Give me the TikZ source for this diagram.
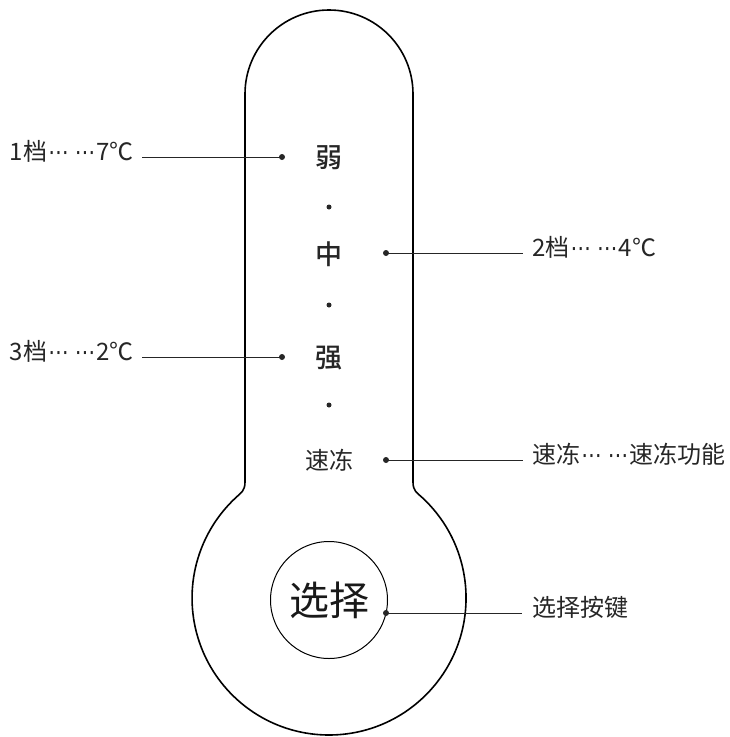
\documentclass[tikz,border=0pt]{standalone}
\usepackage{fontspec}
\setmainfont{Noto Sans CJK SC}[BoldFont={Noto Sans CJK SC Medium}]
\newfontfamily\symfnt{DejaVu Sans}
\newcommand{\degc}{℃}
\newcommand{\dotgrp}{\makebox[0.95em]{\symfnt\scalebox{0.85}[1]{⋯}}}
\newcommand{\dotsx}{\dotgrp\hspace{0.15em}\dotgrp}
\begin{document}
\begin{tikzpicture}[x=1pt,y=-1pt,
  outline/.style={line width=1.6pt,line join=round},
  leader/.style={line width=1pt,draw=black!85},
  dotmark/.style={circle,fill=black!85,inner sep=0pt,minimum size=6pt},
  sidelabel/.style={inner sep=0pt,text height=0.86em,text depth=0.14em,font=\fontsize{24}{28}\selectfont,text=black!85},
  level/.style={inner sep=0pt,font=\fontsize{27}{30}\selectfont\bfseries,text=black!85},
  ]
\useasboundingbox (0,0) rectangle (729,737);
% thermometer outline
\draw[outline] (245,94) arc[start angle=180,end angle=360,radius=84] -- (413,482)
  .. controls (413,491) and (417.2,492.9) .. (421.6,497)
  arc[start angle=-47.5,end angle=227.5,radius=137]
  .. controls (240.8,492.9) and (245,491) .. (245,482) -- cycle;
% select button
\node[circle,draw,line width=1pt,minimum size=117pt,inner sep=0pt] (btn) at (329,600) {};
\node[inner sep=0pt,font=\fontsize{40}{44}\selectfont,text=black!90] (btntext) at (329,600) {选择};
% levels
\node[level] (weak) at (329,158) {弱};
\node[dotmark,minimum size=5pt] (s1) at (329,207) {};
\node[level] (mid) at (329,254) {中};
\node[dotmark,minimum size=5pt] (s2) at (329,305) {};
\node[level] (strong) at (329,358) {强};
\node[dotmark,minimum size=5pt] (s3) at (329,405) {};
\node[inner sep=0pt,font=\fontsize{24}{28}\selectfont,text=black!85] (quick) at (329,460) {速冻};
% dots
\node[dotmark] (d1) at (282,157) {};
\node[dotmark] (d2) at (386,253) {};
\node[dotmark] (d3) at (282,357) {};
\node[dotmark] (d4) at (386,460) {};
\node[dotmark] (d5) at (386,613) {};
% labels
\node[sidelabel,anchor=east] (l1) at (134,157) {1档\dotsx 7\degc};
\node[sidelabel,anchor=west] (l2) at (532,253) {2档\dotsx 4\degc};
\node[sidelabel,anchor=east] (l3) at (134,357) {3档\dotsx 2\degc};
\node[sidelabel,anchor=west] (l4) at (532,460) {速冻\dotsx 速冻功能};
\node[sidelabel,anchor=west] (l5) at (532,613) {选择按键};
% leaders
\draw[leader] ([xshift=8pt]l1.east) -- (d1.center);
\draw[leader] (d2.center) -- ([xshift=-9pt]l2.west);
\draw[leader] ([xshift=8pt]l3.east) -- (d3.center);
\draw[leader] (d4.center) -- ([xshift=-9pt]l4.west);
\draw[leader] (d5.center) -- ([xshift=-10pt]l5.west);
\end{tikzpicture}
\end{document}
